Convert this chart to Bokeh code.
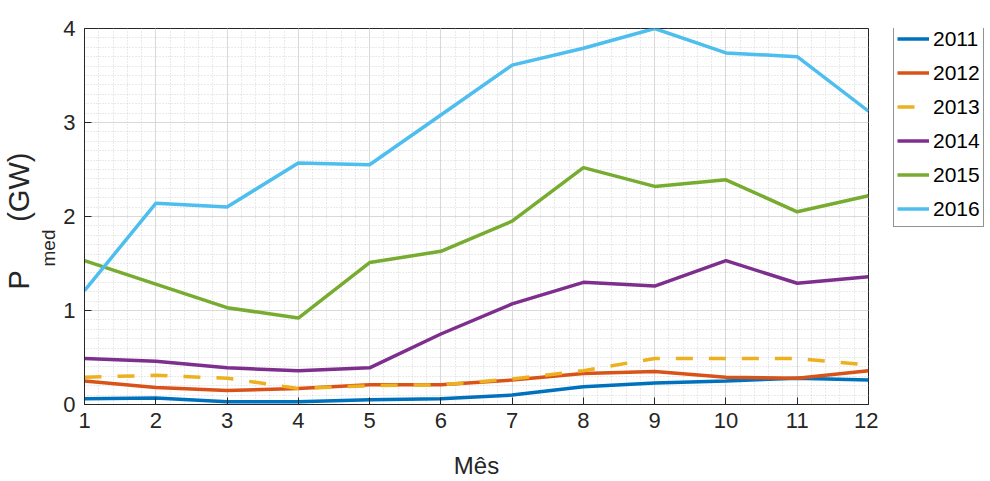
from bokeh.plotting import figure
from bokeh.layouts import row
from bokeh.models import (Legend, LegendItem, SingleIntervalTicker, Title, Range1d)
from bokeh.embed import file_html
from bokeh.resources import INLINE

months = [1, 2, 3, 4, 5, 6, 7, 8, 9, 10, 11, 12]
years = ["2011", "2012", "2013", "2014", "2015", "2016"]
p2011 = [0.06, 0.07, 0.03, 0.03, 0.05, 0.06, 0.10, 0.19, 0.23, 0.25, 0.28, 0.26]
p2012 = [0.25, 0.18, 0.15, 0.17, 0.21, 0.21, 0.26, 0.33, 0.35, 0.29, 0.28, 0.36]
p2013 = [0.29, 0.31, 0.28, 0.17, 0.20, 0.21, 0.27, 0.36, 0.49, 0.49, 0.49, 0.42]
p2014 = [0.49, 0.46, 0.39, 0.36, 0.39, 0.75, 1.07, 1.30, 1.26, 1.53, 1.29, 1.36]
p2015 = [1.53, 1.28, 1.03, 0.92, 1.51, 1.63, 1.95, 2.52, 2.32, 2.39, 2.05, 2.22]
p2016 = [1.21, 2.14, 2.10, 2.57, 2.55, 3.08, 3.61, 3.79, 4.00, 3.74, 3.70, 3.12]
series = [p2011, p2012, p2013, p2014, p2015, p2016]
colors = ["#0072BD", "#D95319", "#EDB120", "#7E2F8E", "#77AC30", "#4DBEEE"]
dashes = ["solid", "solid", "17 16", "solid", "solid", "solid"]

FONT = "Liberation Sans"
DARK = "#262626"

p = figure(width=878, height=481, output_backend="svg", toolbar_location=None,
           x_range=Range1d(1, 12), y_range=Range1d(0, 4),
           min_border_left=84, min_border_right=10, min_border_top=28,
           min_border_bottom=76, outline_line_color=DARK, outline_line_width=1)

xt = SingleIntervalTicker(interval=1, num_minor_ticks=5)
yt = SingleIntervalTicker(interval=1, num_minor_ticks=10)

for ax, t in ((p.xaxis[0], xt), (p.yaxis[0], yt)):
    ax.ticker = t
    ax.axis_line_color = DARK
    ax.major_tick_line_color = DARK
    ax.major_tick_in = 7
    ax.major_tick_out = 0
    ax.minor_tick_in = 0
    ax.minor_tick_out = 0
    ax.major_label_text_font = FONT
    ax.major_label_text_font_size = "22px"
    ax.major_label_text_color = DARK
p.xaxis.major_label_standoff = 8
p.yaxis.major_label_standoff = 9
p.xaxis.axis_label = "Mês"
p.xaxis.axis_label_text_font = FONT
p.xaxis.axis_label_text_font_size = "24px"
p.xaxis.axis_label_text_font_style = "normal"
p.xaxis.axis_label_text_color = DARK
p.xaxis.axis_label_standoff = 21

p.xgrid.ticker = xt
p.ygrid.ticker = yt
for g in (p.xgrid[0], p.ygrid[0]):
    g.grid_line_color = "#d9d9d9"
    g.grid_line_width = 1
    g.minor_grid_line_color = "#d4d4d4"
    g.minor_grid_line_dash = "1 2"
    g.minor_grid_line_width = 1

for ys, c, d in zip(series, colors, dashes):
    p.line(months, ys, line_color=c, line_width=3.5, line_dash=d)

# y-axis title: P with subscript "med", then (GW)
NB = "\u00a0"
t_sub = Title(text="med", text_font=FONT, text_font_size="19px",
              text_font_style="normal", text_color=DARK, align="left",
              offset=138, standoff=3)
t_main = Title(text="P" + NB * 6 + "(GW)", text_font=FONT, text_font_size="29px",
               text_font_style="normal", text_color=DARK, align="left",
               offset=115, standoff=0)
p.add_layout(t_sub, "left")
p.add_layout(t_main, "left")

# legend panel (separate figure, same data drawn out of view)
q = figure(width=112, height=481, output_backend="svg", toolbar_location=None,
           x_range=Range1d(-20, -19), y_range=Range1d(0, 4),
           min_border=0, outline_line_color=None)
q.axis.visible = False
q.grid.visible = False
items = []
for name, ys, c, d in zip(years, series, colors, dashes):
    r = q.line(months, ys, line_color=c, line_width=3.5, line_dash=d)
    items.append(LegendItem(label=name, renderers=[r]))
legend = Legend(items=items, location=(15, 177), orientation="vertical",
                label_text_font=FONT, label_text_font_size="21px",
                label_text_color="black", glyph_width=32, glyph_height=29,
                label_height=29, label_standoff=4, spacing=5, padding=3,
                margin=0, border_line_color=DARK, border_line_width=1,
                background_fill_color="white", background_fill_alpha=1)
q.add_layout(legend, "center")

open("out.html", "w").write(file_html(row(p, q), INLINE))
